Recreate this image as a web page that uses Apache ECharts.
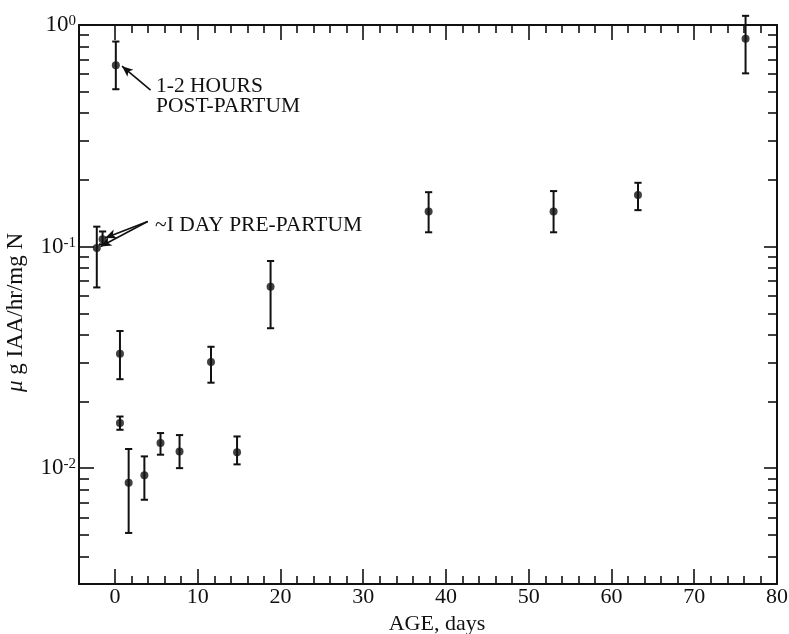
<!DOCTYPE html>
<html><head><meta charset="utf-8">
<script src="https://cdn.jsdelivr.net/npm/echarts@6/dist/echarts.min.js"></script>
<style>html,body{margin:0;padding:0;background:#fff}#c{width:789px;height:634px}</style>
</head><body><div id="c"></div>
<script>
// ---- data ----
const ageDays = [-2.2, -1.5, 0.1, 0.6, 0.6, 1.65, 3.55, 5.5, 7.8, 11.6, 14.75, 18.8, 37.9, 53.0, 63.2, 76.2];
const iaaMean = [0.0986, 0.108, 0.658, 0.0328, 0.0160, 0.0086, 0.0093, 0.0130, 0.0119, 0.0301, 0.0118, 0.0659, 0.144, 0.144, 0.171, 0.866];
const iaaHigh = [0.123, 0.117, 0.842, 0.0416, 0.0171, 0.0122, 0.0113, 0.0144, 0.0141, 0.0353, 0.0139, 0.0861, 0.176, 0.178, 0.194, 1.10];
const iaaLow  = [0.0654, 0.1024, 0.513, 0.0252, 0.0149, 0.0051, 0.0072, 0.0115, 0.0100, 0.0243, 0.0104, 0.0428, 0.116, 0.116, 0.146, 0.605];

const xMajorTicks = [0, 10, 20, 30, 40, 50, 60, 70, 80];
const xMinorTicks = [2,4,6,8,12,14,16,18,22,24,26,28,32,34,36,38,42,44,46,48,52,54,56,58,62,64,66,68,72,74,76,78];
const yMajorTicks = [0.01, 0.1, 1];
const yMinorTicks = [0.004,0.005,0.006,0.007,0.008,0.009,0.02,0.03,0.04,0.05,0.06,0.07,0.08,0.09,0.2,0.3,0.4,0.5,0.6,0.7,0.8,0.9];
const yTickExponents = ['-2', '-1', '0'];

const postPartumLabel = ['1-2 HOURS', 'POST-PARTUM'];
const prePartumLabel = '~I DAY PRE-PARTUM';
// arrow ends [startDay, startValue, endDay, endValue]
const postArrow = [4.3, 0.508, 0.85, 0.652];
const preArrows = [[3.95, 0.1297, -1.2, 0.1094], [3.95, 0.1297, -1.75, 0.1000]];

const X_MIN = -4.35, X_MAX = 80, Y_MIN = 0.003, Y_MAX = 1;
const FONT = '"Liberation Serif", "Times New Roman", serif';
const INK = '#111';

const chart = echarts.init(document.getElementById('c'), null, {renderer: 'canvas'});

function xAxisDef(pos, ticks, len, main) {
  return {
    type: 'value', position: pos, min: X_MIN, max: X_MAX,
    axisLine: {show: main, onZero: false, lineStyle: {color: INK, width: 2}},
    axisTick: {show: true, inside: true, length: len, customValues: ticks, lineStyle: {color: INK, width: 1.6}},
    axisLabel: (main && pos === 'bottom') ? {show: true, customValues: xMajorTicks, margin: 2, color: INK, fontFamily: FONT, fontSize: 22} : {show: false},
    splitLine: {show: false},
    name: (main && pos === 'bottom') ? 'AGE, days' : '',
    nameLocation: 'middle', nameGap: 23,
    nameTextStyle: {color: INK, fontFamily: FONT, fontSize: 22, padding: [0, 0, 0, 18]}
  };
}
function yAxisDef(pos, ticks, len, main) {
  const ax = {
    type: 'log', logBase: 10, position: pos, min: Y_MIN, max: Y_MAX,
    axisLine: {show: main, onZero: false, lineStyle: {color: INK, width: 2}},
    axisTick: {show: true, inside: true, length: len, customValues: ticks, lineStyle: {color: INK, width: 1.6}},
    axisLabel: {show: false},
    splitLine: {show: false}, minorTick: {show: false}
  };
  if (main && pos === 'left') {
    ax.axisLabel = {
      show: true, customValues: yMajorTicks, margin: 3, color: INK,
      formatter: function (v) {
        const i = yMajorTicks.findIndex(t => Math.abs(Math.log10(t) - Math.log10(v)) < 1e-6);
        return '{b|10}{s|' + (i >= 0 ? yTickExponents[i] : '') + '}';
      },
      rich: {
        b: {fontFamily: FONT, fontSize: 23, lineHeight: 23, color: INK},
        s: {fontFamily: FONT, fontSize: 15, lineHeight: 15, verticalAlign: 'top', color: INK}
      }
    };
    ax.name = '{i|μ} g IAA/hr/mg N';
    ax.nameLocation = 'middle';
    ax.nameGap = 52;
    ax.nameRotate = 90;
    ax.nameTextStyle = {
      color: INK, fontFamily: FONT, fontSize: 23, padding: [0, 16, 0, 0],
      rich: {i: {fontFamily: FONT, fontSize: 23, fontStyle: 'italic', color: INK}}
    };
  }
  return ax;
}

const errData = ageDays.map((d, i) => [d, iaaLow[i], iaaHigh[i]]);
const ptData = ageDays.map((d, i) => [d, iaaMean[i]]);

const option = {
  animation: false,
  backgroundColor: '#fff',
  grid: {left: 79, right: 12, top: 25, bottom: 50, containLabel: false, outerBoundsMode: 'none'},
  xAxis: [
    xAxisDef('bottom', xMajorTicks, 15, true),
    xAxisDef('bottom', xMinorTicks, 8, false),
    xAxisDef('top', xMajorTicks, 15, true),
    xAxisDef('top', xMinorTicks, 8, false)
  ],
  yAxis: [
    yAxisDef('left', yMajorTicks, 15, true),
    yAxisDef('left', yMinorTicks, 10, false),
    yAxisDef('right', yMajorTicks, 13, true),
    yAxisDef('right', yMinorTicks, 9, false)
  ],
  series: [
    {
      type: 'custom', xAxisIndex: 0, yAxisIndex: 0, clip: false, silent: true,
      data: errData,
      encode: {x: 0, y: [1, 2]},
      renderItem: function (params, api) {
        const lo = api.coord([api.value(0), api.value(1)]);
        const hi = api.coord([api.value(0), api.value(2)]);
        const hw = 3.6;
        const st = {stroke: INK, lineWidth: 2, fill: 'none'};
        return {type: 'group', children: [
          {type: 'line', shape: {x1: lo[0], y1: lo[1], x2: hi[0], y2: hi[1]}, style: st},
          {type: 'line', shape: {x1: lo[0] - hw, y1: lo[1], x2: lo[0] + hw, y2: lo[1]}, style: st},
          {type: 'line', shape: {x1: hi[0] - hw, y1: hi[1], x2: hi[0] + hw, y2: hi[1]}, style: st}
        ]};
      }
    },
    {
      type: 'scatter', xAxisIndex: 0, yAxisIndex: 0, data: ptData,
      symbol: 'circle', symbolSize: 8, itemStyle: {color: INK}, silent: true, clip: false,
      markLine: {
        silent: true, symbol: ['none', 'arrow'], symbolSize: [7, 11],
        label: {show: false},
        lineStyle: {color: INK, width: 1.6, type: 'solid'},
        data: [
          [{coord: [postArrow[0], postArrow[1]]}, {coord: [postArrow[2], postArrow[3]]}],
          [{coord: [preArrows[0][0], preArrows[0][1]]}, {coord: [preArrows[0][2], preArrows[0][3]]}],
          [{coord: [preArrows[1][0], preArrows[1][1]]}, {coord: [preArrows[1][2], preArrows[1][3]]}]
        ]
      }
    }
  ],
  graphic: [
    {type: 'text', x: 156, y: 86, style: {text: postPartumLabel[0], fontFamily: FONT, fontSize: 21.5, fill: INK, verticalAlign: 'middle'}},
    {type: 'text', x: 156, y: 106, style: {text: postPartumLabel[1], fontFamily: FONT, fontSize: 21.5, fill: INK, verticalAlign: 'middle'}},
    {type: 'text', x: 155, y: 225, style: {text: prePartumLabel, fontFamily: FONT, fontSize: 21.5, fill: INK, verticalAlign: 'middle'}}
  ]
};
chart.setOption(option);
</script>
</body></html>
